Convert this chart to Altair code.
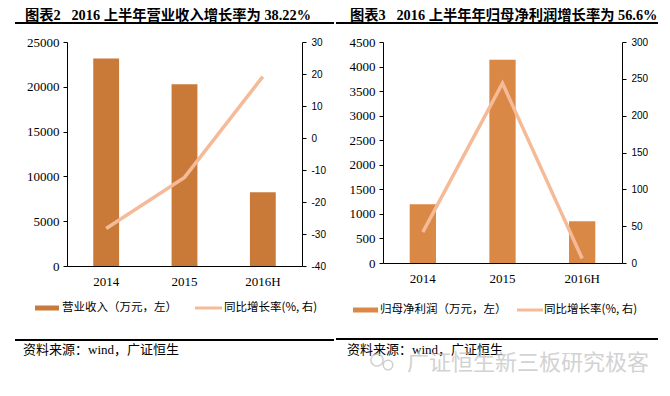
import altair as alt
import pandas as pd

# ---------------- data ----------------
years = ["2014", "2015", "2016H"]
revenue = [23150, 20280, 8220]
revenue_growth = [-28.3, -12.3, 19.2]
profit = [1198, 4137, 851]
profit_growth = [42, 244, 6]

left_ticks = [0, 5000, 10000, 15000, 20000, 25000]
left_growth_ticks = [-40, -30, -20, -10, 0, 10, 20, 30]
right_ticks = [0, 500, 1000, 1500, 2000, 2500, 3000, 3500, 4000, 4500]
right_growth_ticks = [0, 50, 100, 150, 200, 250, 300]

titles = ["图表2\u00a0\u00a0 2016 上半年营业收入增长率为 38.22%",
          "图表3\u00a0\u00a0 2016 上半年年归母净利润增长率为 56.6%"]
bar_legends = ["营业收入（万元，左）", "归母净利润（万元，左）"]
line_legend = "同比增长率(%, 右)"
source_text = "资料来源：wind，广证恒生"
watermark = "广证恒生新三板研究极客"

SERIF = "Liberation Serif, Noto Sans CJK SC"
CJK = "Noto Sans CJK SC"
LINE_COLOR = "#F5BA98"
WM_COLOR = "#C4C4C4"


def txt(s, x, y, size, font, color="black", weight="normal", opacity=1):
    return alt.Chart(pd.DataFrame({"t": [s]})).mark_text(
        align="left", baseline="middle", font=font, fontSize=size,
        fontWeight=weight, color=color, opacity=opacity
    ).encode(text="t:N", x=alt.value(x), y=alt.value(y))


def hrule(x1, x2, y, width, color="black"):
    return alt.Chart(pd.DataFrame({"a": [0]})).mark_rule(
        color=color, strokeWidth=width
    ).encode(x=alt.value(x1), x2=alt.value(x2), y=alt.value(y))


def bubble(x, y, size):
    return alt.Chart(pd.DataFrame({"a": [0]})).mark_point(
        shape="circle", filled=False, color=WM_COLOR, strokeWidth=1.5, opacity=0.8
    ).encode(x=alt.value(x), y=alt.value(y), size=alt.value(size))


def panel(vals, growth, ticks, gticks, bar_color, w, h, title, title_x,
          rule_x1, rule_x2, leg_y, leg_sw, leg_t1, leg_line, leg_t2,
          rule2_y, src_x, extra=()):
    df = pd.DataFrame({"year": years, "v": vals, "g": growth})
    x = alt.X("year:N", sort=years,
              scale=alt.Scale(paddingInner=0.67, paddingOuter=0.335),
              axis=alt.Axis(title=None, labelAngle=0, ticks=False,
                            labelPadding=9, labelFont="Liberation Serif",
                            labelFontSize=13, labelColor="black",
                            domainColor="black", domainWidth=1))
    bars = alt.Chart(df).mark_bar(color=bar_color).encode(
        x=x,
        y=alt.Y("v:Q", scale=alt.Scale(domain=[ticks[0], ticks[-1]], nice=False),
                axis=alt.Axis(title=None, values=ticks, format="d", grid=False,
                              tickSize=4, tickColor="black", domainColor="black",
                              labelFont="Liberation Serif", labelFontSize=13,
                              labelColor="black", labelPadding=4)),
    )
    line = alt.Chart(df).mark_line(color=LINE_COLOR, strokeWidth=3.5).encode(
        x=x,
        y=alt.Y("g:Q", scale=alt.Scale(domain=[gticks[0], gticks[-1]], nice=False),
                axis=alt.Axis(title=None, orient="right", values=gticks, grid=False,
                              labelExpr="datum.value + ''",
                              tickSize=4, tickColor="black", domainColor="black",
                              labelFont="Liberation Sans", labelFontSize=10,
                              labelColor="black", labelPadding=5)),
    )
    annots = [
        txt(title, title_x, -26, 14.3, SERIF, weight="bold"),
        hrule(rule_x1, rule_x2, -19, 2),
        alt.Chart(pd.DataFrame({"a": [0]})).mark_rect(color=bar_color).encode(
            x=alt.value(leg_sw[0]), x2=alt.value(leg_sw[1]),
            y=alt.value(leg_y - 2.5), y2=alt.value(leg_y + 2.5)),
        txt(leg_t1[0], leg_t1[1], leg_y, 11.5, CJK),
        hrule(leg_line[0], leg_line[1], leg_y, 3, LINE_COLOR),
        txt(line_legend, leg_t2, leg_y, 11.5, CJK),
        hrule(rule_x1, rule_x2, rule2_y, 2),
        txt(source_text, src_x, 308, 13, SERIF),
    ] + list(extra)
    return alt.layer(bars, line, *annots).resolve_scale(y="independent").properties(
        width=w, height=h)


left = panel(revenue, revenue_growth, left_ticks, left_growth_ticks, "#C97A38",
             235, 224, titles[0], -42, -52, 267, 266, (-32, -8),
             (bar_legends[0], -5), (128, 155), 157, 298, -44)

right = panel(profit, profit_growth, right_ticks, right_growth_ticks, "#D98845",
              239, 221, titles[1], -33, -47, 275, 268, (-30, -5),
              (bar_legends[1], -3), (134, 160), 161, 297, -36,
              extra=[bubble(-6, 318, 150), bubble(5, 323, 90),
                     txt(watermark, 24, 321, 22, CJK, color=WM_COLOR, opacity=0.75)])

chart = alt.hconcat(left, right, spacing=0).properties(
    padding={"left": 6, "top": 1, "right": 2, "bottom": 6},
    background="white",
).configure_view(strokeWidth=0)

chart.save("out.html", embed_options={"renderer": "svg", "actions": False})
